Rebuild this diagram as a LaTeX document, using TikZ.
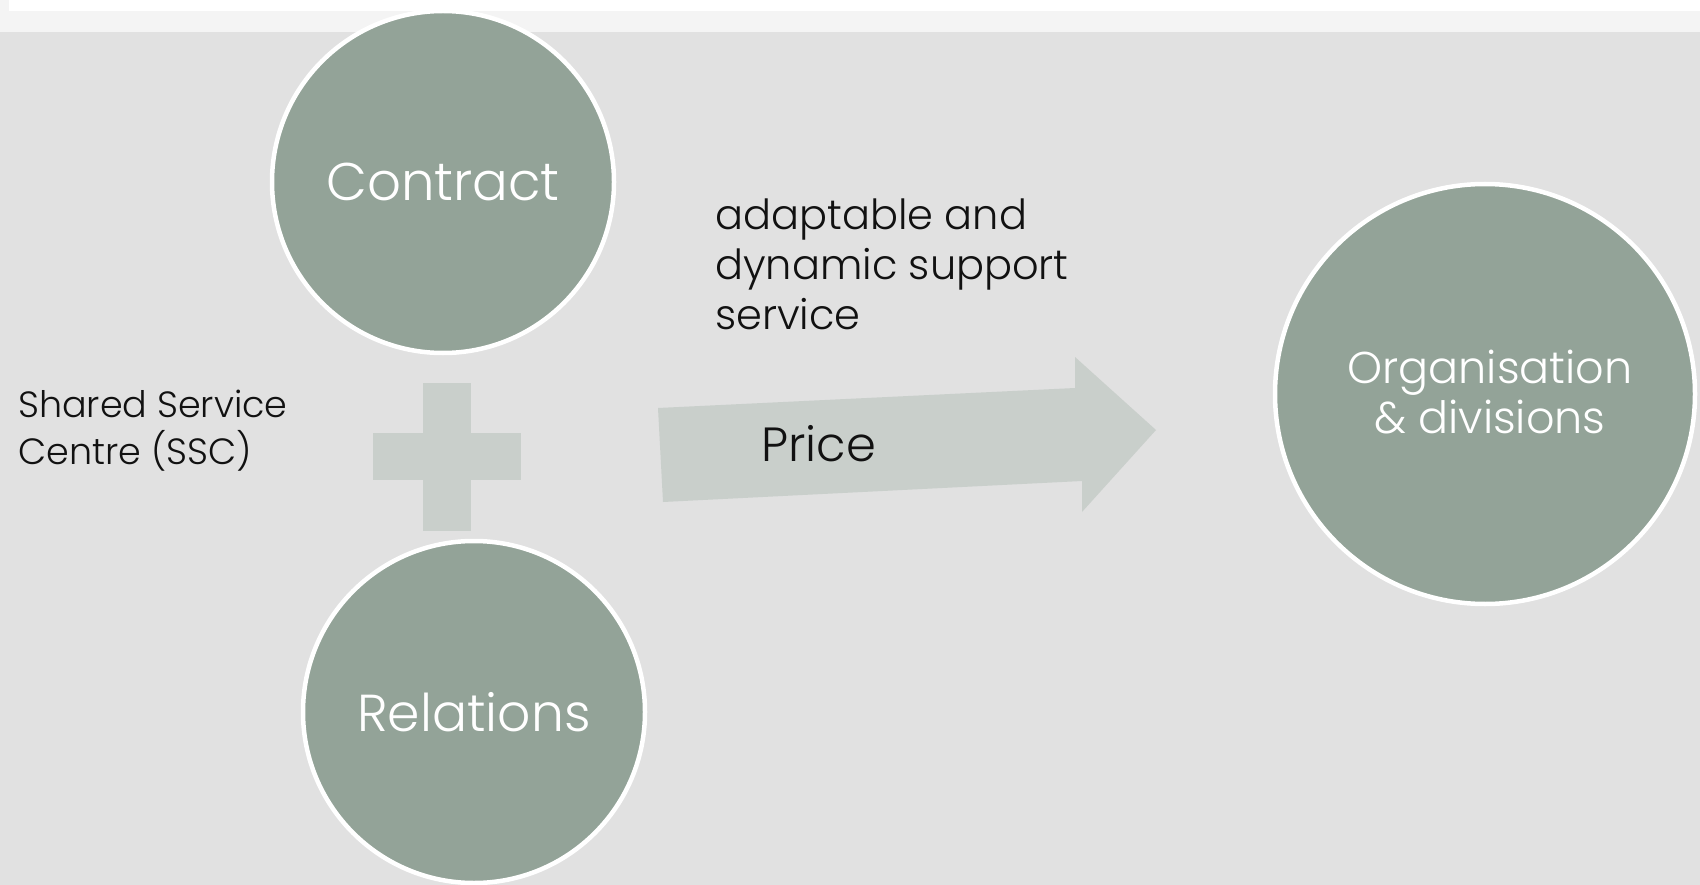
\documentclass[tikz,border=0pt]{standalone}
\usepackage{fontspec}
\setmainfont{Poppins Light}
\definecolor{bggray}{HTML}{E1E1E1}
\definecolor{band}{HTML}{F4F4F4}
\definecolor{circfill}{HTML}{93A398}
\definecolor{lightshape}{HTML}{C9CFCB}
\definecolor{ink}{HTML}{111111}
\begin{document}
\begin{tikzpicture}[x=1pt,y=-1pt,
  bubble/.style={circle,fill=circfill,draw=white,line width=4.5pt,inner sep=0pt,
    minimum size=#1,text=white},
  bubbletext/.style={text=white,inner sep=0pt},
  plaintext/.style={text=ink,inner sep=0pt},
  lightfill/.style={fill=lightshape,draw=none}]
% background
\fill[bggray] (0,0) rectangle (1700,885);
\useasboundingbox (0,0) rectangle (1700,885);
\fill[band] (0,0) rectangle (1700,32);
\fill[white] (9,0) rectangle (1700,11);
% circles
\node[bubble=342pt] (contract) at (443,182) {};
\node[bubble=342pt] (relations) at (474,712) {};
\node[bubble=420pt] (org) at (1485,394) {};
\node[bubbletext,font=\fontsize{53}{60}\selectfont] (contractT) at (contract.center) {Contract};
\node[bubbletext,font=\fontsize{52}{60}\selectfont] (relationsT) at (relations.center) {Relations};
\node[bubbletext,anchor=base] (orgT) at (1490,383)
  {\fontsize{44.5}{50}\selectfont\begin{tabular}[t]{@{}c@{}}Organisation\\\& divisions\end{tabular}};
% plus sign
\fill[lightfill] (423,383) rectangle (471,531);
\fill[lightfill] (373,433) rectangle (521,480);
\coordinate (plus) at (447,457);
% arrow
\coordinate (aTL) at (658,408);
\coordinate (aBL) at (663,502);
\coordinate (aTip) at (1156,430);
\fill[lightfill] (aTL) -- (1075,388) -- (1075,357) -- (aTip) -- (1082,512) -- (1082,481) -- (aBL) -- cycle;
\node[plaintext,anchor=base west,font=\fontsize{48}{60}\selectfont] (price) at (761,461) {Price};
% texts
\node[plaintext,anchor=base west] (adapt) at (715,230)
  {\fontsize{41.5}{50}\selectfont\begin{tabular}[t]{@{}l@{}}adaptable and\\dynamic support\\service\end{tabular}};
\node[plaintext,anchor=base west] (ssc) at (18,417)
  {\fontsize{36.5}{45}\selectfont\begin{tabular}[t]{@{}l@{}}Shared Service\\Centre (SSC)\end{tabular}};
\end{tikzpicture}
\end{document}
